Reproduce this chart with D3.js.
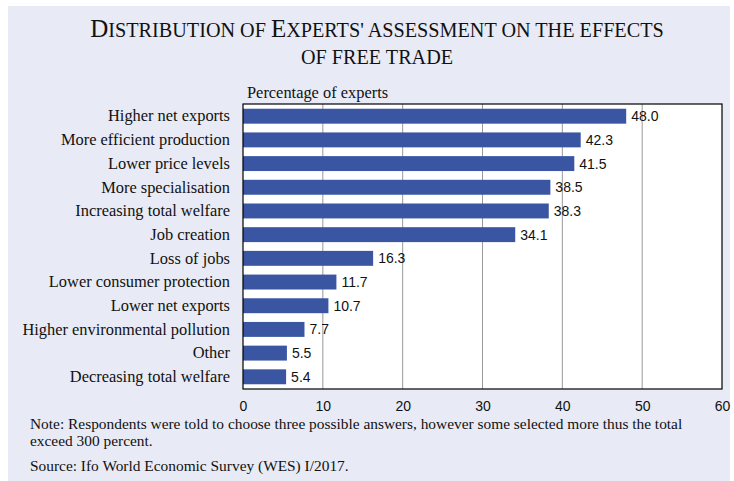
<!DOCTYPE html>
<html>
<head>
<meta charset="utf-8">
<script src="https://cdn.jsdelivr.net/npm/d3@7"></script>
<style>
  body { margin: 0; background: #fff; }
  svg { display: block; }
  .serif { font-family: "Liberation Serif", "Times New Roman", serif; fill: #111; }
  .sans { font-family: "Liberation Sans", Arial, sans-serif; fill: #111; }
</style>
</head>
<body>
<svg width="734" height="481"></svg>
<script>
const categories = [
  "Higher net exports", "More efficient production", "Lower price levels",
  "More specialisation", "Increasing total welfare", "Job creation",
  "Loss of jobs", "Lower consumer protection", "Lower net exports",
  "Higher environmental pollution", "Other", "Decreasing total welfare"
];
const shares = [48.0, 42.3, 41.5, 38.5, 38.3, 34.1, 16.3, 11.7, 10.7, 7.7, 5.5, 5.4];
const xTicks = [0, 10, 20, 30, 40, 50, 60];
const noteLines = [
  "Note: Respondents were told to choose three possible answers, however some selected more thus the total",
  "exceed 300 percent."
];
const sourceLine = "Source: Ifo World Economic Survey (WES) I/2017.";

const svg = d3.select("svg");
const plot = { left: 243, right: 722, top: 104, bottom: 389 };

// background panel
svg.append("rect")
  .attr("x", 8).attr("y", 6)
  .attr("width", 722).attr("height", 475)
  .attr("fill", "#e8ebf6");

// title with small caps look
const title = svg.append("text")
  .attr("class", "serif")
  .attr("text-anchor", "middle")
  .attr("x", 377).attr("y", 37);
[["D", 25], ["ISTRIBUTION OF ", 20.2], ["E", 25], ["XPERTS' ASSESSMENT ON THE EFFECTS", 20.2]]
  .forEach(([t, s]) => title.append("tspan").attr("font-size", s).text(t));
svg.append("text")
  .attr("class", "serif")
  .attr("text-anchor", "middle")
  .attr("x", 377).attr("y", 64)
  .attr("font-size", 20.2)
  .text("OF FREE TRADE");

svg.append("text")
  .attr("class", "serif")
  .attr("x", 247).attr("y", 98)
  .attr("font-size", 16.4)
  .text("Percentage of experts");

const x = d3.scaleLinear().domain([0, 60]).range([plot.left, plot.right]);
const y = d3.scaleBand().domain(categories)
  .range([plot.top, plot.bottom])
  .paddingInner(0.37).paddingOuter(0.2);

svg.append("rect")
  .attr("x", plot.left).attr("y", plot.top)
  .attr("width", plot.right - plot.left).attr("height", plot.bottom - plot.top)
  .attr("fill", "#fff");

// vertical gridlines
svg.append("g")
  .selectAll("line")
  .data(xTicks.slice(1, -1))
  .enter().append("line")
  .attr("x1", d => x(d)).attr("x2", d => x(d))
  .attr("y1", plot.top).attr("y2", plot.bottom)
  .attr("stroke", "#999").attr("stroke-width", 1);

const data = categories.map((c, i) => ({ cat: c, val: shares[i] }));

svg.append("g")
  .selectAll("rect")
  .data(data)
  .enter().append("rect")
  .attr("x", x(0))
  .attr("y", d => y(d.cat))
  .attr("width", d => x(d.val) - x(0))
  .attr("height", y.bandwidth())
  .attr("fill", "#3a55a2");

svg.append("g")
  .selectAll("text")
  .data(data)
  .enter().append("text")
  .attr("class", "sans")
  .attr("x", d => x(d.val) + 5)
  .attr("y", d => y(d.cat) + y.bandwidth() / 2)
  .attr("dy", "0.36em")
  .attr("font-size", 14)
  .text(d => d.val.toFixed(1));

// plot frame
svg.append("rect")
  .attr("x", plot.left).attr("y", plot.top)
  .attr("width", plot.right - plot.left).attr("height", plot.bottom - plot.top)
  .attr("fill", "none").attr("stroke", "#000").attr("stroke-width", 1.2);

// category labels
const yAxis = svg.append("g")
  .attr("transform", `translate(${plot.left},0)`)
  .call(d3.axisLeft(y).tickSize(0).tickPadding(13));
yAxis.select(".domain").remove();
yAxis.selectAll("text")
  .attr("class", "serif")
  .attr("font-size", 16.4)
  .attr("fill", "#111");

// x tick labels
const xAxis = svg.append("g")
  .attr("transform", `translate(0,${plot.bottom})`)
  .call(d3.axisBottom(x).tickValues(xTicks).tickSize(0).tickPadding(12).tickFormat(d3.format("d")));
xAxis.select(".domain").remove();
xAxis.selectAll("text")
  .attr("class", "sans")
  .attr("font-size", 14)
  .attr("fill", "#111");

svg.append("g")
  .selectAll("text")
  .data(noteLines)
  .enter().append("text")
  .attr("class", "serif")
  .attr("x", 30)
  .attr("y", (d, i) => 429 + i * 17)
  .attr("font-size", 15.4)
  .text(d => d);

svg.append("text")
  .attr("class", "serif")
  .attr("x", 30).attr("y", 471)
  .attr("font-size", 15.4)
  .text(sourceLine);
</script>
</body>
</html>
